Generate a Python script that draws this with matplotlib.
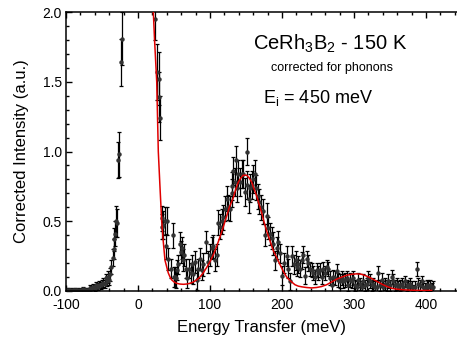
import numpy as np
import matplotlib
matplotlib.use("Agg")
import matplotlib.pyplot as plt
from matplotlib.ticker import MultipleLocator

plt.rcParams['font.family'] = ['Liberation Sans', 'DejaVu Sans']
plt.rcParams['mathtext.default'] = 'regular'
plt.rcParams['axes.unicode_minus'] = False

# measured points: energy transfer (meV), corrected intensity, error
energy = [-100, -97, -95, -92, -90, -87, -85, -82, -80, -77, -75, -72, -70, -67,
          -65, -62, -60, -58, -56, -54, -52, -50, -48, -46, -44, -43, -42, -40,
          -39, -37, -35, -34, -33, -31.5, -30, -29, -28, -26, -24, -22,
          23.6, 26.0, 28.7, 29.5, 30.5, 32.9, 34.0, 35.2, 37.5, 38.9, 40.7, 42.1,
          45.4, 48.1, 50.0, 51.8, 52.8, 54.0, 56.0, 58.3, 59.7, 61.0, 62.0, 64.4,
          66.2, 68.5, 70.8, 73.1, 75.5, 76.8, 79.2, 81.5, 83.8, 86.1, 88.4, 90.7,
          94.4, 97.7, 100.0, 102.3, 104.6, 106.9, 109.3, 111.6, 113.9, 116.2,
          118.5, 120.8, 123.0, 125.4, 127.8, 130.0, 131.0, 132.4, 134.7, 136.0,
          138.0, 139.3, 141.7, 144.0, 146.3, 148.6, 151.0, 152.0, 154.6, 155.6,
          157.9, 160.2, 162.5, 164.0, 166.2, 168.5, 170.8, 173.2, 176.4, 178.7,
          181.0, 183.3, 185.6, 187.9, 190.3, 192.6, 194.9, 197.2, 200.4, 203.2,
          206.5, 208.8, 211.0, 213.4, 216.7, 219.0, 221.4,
          222.7, 225.0, 227.3, 229.6, 232.0, 234.3, 236.6, 238.9, 241.0, 243.5,
          245.8, 248.2, 250.5, 252.8, 255.0, 257.4, 259.7, 262.0, 264.3, 266.7,
          269.0, 271.3, 273.6, 275.9, 278.2, 280.6, 282.9, 285.2, 287.5, 289.8,
          292.0, 294.4, 296.8, 299.0, 301.4, 303.7, 306.0, 308.3, 310.6, 313.0,
          315.3, 317.6, 320.0, 322.0, 324.5, 326.8, 329.0, 331.4, 333.8, 336.0,
          338.4, 340.7, 343.0, 345.4, 347.7, 350.0, 352.3, 354.6, 357.0, 359.3,
          361.6, 364.0, 366.2, 368.5, 370.8, 373.0, 375.5, 377.8, 380.0, 382.4,
          384.7, 387.0, 389.3, 391.6, 393.9, 396.3, 398.6, 401.0, 403.2, 405.5,
          407.8, 410.0]
intensity = [0.01, 0.005, 0.01, 0.0, 0.01, 0.005, 0.01, 0.0, 0.01, 0.015, 0.005, 0.01, 0.005, 0.02,
             0.015, 0.03, 0.02, 0.04, 0.03, 0.045, 0.04, 0.05, 0.06, 0.05, 0.09, 0.07, 0.10, 0.08,
             0.12, 0.17, 0.24, 0.30, 0.37, 0.41, 0.50, 0.49, 0.94, 0.98, 1.64, 1.81,
             1.95, 1.57, 1.52, 1.39, 1.24, 0.52, 0.46, 0.47, 0.50, 0.32, 0.50, 0.23,
             0.16, 0.40, 0.10, 0.10, 0.09, 0.15, 0.19, 0.34, 0.28, 0.31, 0.22, 0.26,
             0.16, 0.09, 0.16, 0.13, 0.19, 0.12, 0.21, 0.08, 0.16, 0.23, 0.15, 0.19,
             0.35, 0.21, 0.26, 0.31, 0.32, 0.22, 0.26, 0.49, 0.46, 0.50,
             0.53, 0.59, 0.66, 0.60, 0.59, 0.75, 0.70, 0.86, 0.78, 0.94,
             0.74, 0.84, 0.78, 0.84, 0.84, 0.71, 1.00, 0.76, 0.66, 0.74,
             0.76, 0.80, 0.84, 0.74, 0.68, 0.64, 0.60, 0.57, 0.40, 0.54,
             0.45, 0.41, 0.38, 0.34, 0.22, 0.31, 0.35, 0.27, 0.11, 0.20,
             0.25, 0.16, 0.07, 0.25, 0.19, 0.22, 0.17,
             0.19, 0.16, 0.22, 0.26, 0.11, 0.23, 0.20, 0.16, 0.15, 0.13,
             0.10, 0.15, 0.13, 0.15, 0.10, 0.16, 0.13, 0.17, 0.16, 0.09,
             0.04, 0.10, 0.09, 0.14, 0.08, 0.07, 0.09, 0.07, 0.08, 0.09,
             0.04, 0.08, 0.07, 0.09, 0.04, 0.03, 0.08, 0.05, 0.03, 0.07,
             0.04, 0.05, 0.09, 0.07, 0.04, 0.05, 0.03, 0.03, 0.13, 0.04,
             0.08, 0.03, 0.05, 0.04, 0.07, 0.04, 0.10, 0.07, 0.04, 0.05,
             0.03, 0.04, 0.05, 0.03, 0.07, 0.04, 0.03, 0.05, 0.03, 0.00,
             0.03, 0.16, 0.05, 0.04, 0.07, 0.03, 0.02, 0.04, 0.03, 0.04,
             0.02, 0.03]
error = [0.015, 0.015, 0.015, 0.015, 0.015, 0.015, 0.015, 0.015, 0.015, 0.015, 0.015, 0.015, 0.015, 0.02,
         0.02, 0.02, 0.02, 0.025, 0.025, 0.025, 0.025, 0.03, 0.03, 0.03, 0.035, 0.035, 0.04, 0.04,
         0.045, 0.05, 0.06, 0.07, 0.08, 0.09, 0.11, 0.10, 0.13, 0.16, 0.17, 0.19,
         0.15, 0.20, 0.19, 0.18, 0.16, 0.09, 0.09, 0.10, 0.10, 0.09, 0.10, 0.08,
         0.07, 0.09, 0.07, 0.07, 0.07, 0.07, 0.07, 0.08, 0.08, 0.08, 0.08, 0.08,
         0.07, 0.07, 0.07, 0.07, 0.07, 0.07, 0.08, 0.07, 0.07, 0.08, 0.07, 0.08,
         0.08, 0.08, 0.08, 0.08, 0.08, 0.08, 0.08, 0.09, 0.09, 0.09,
         0.09, 0.09, 0.09, 0.09, 0.09, 0.10, 0.10, 0.10, 0.10, 0.10,
         0.10, 0.10, 0.10, 0.10, 0.10, 0.10, 0.10, 0.10, 0.10, 0.10,
         0.10, 0.10, 0.10, 0.09, 0.09, 0.09, 0.09, 0.09, 0.08, 0.09,
         0.08, 0.08, 0.08, 0.08, 0.07, 0.08, 0.08, 0.07, 0.07, 0.07,
         0.07, 0.07, 0.06, 0.07, 0.07, 0.07, 0.06,
         0.06, 0.06, 0.06, 0.06, 0.06, 0.06, 0.06, 0.05, 0.05, 0.05,
         0.05, 0.05, 0.05, 0.05, 0.05, 0.05, 0.05, 0.05, 0.05, 0.05,
         0.05, 0.05, 0.05, 0.05, 0.05, 0.05, 0.05, 0.05, 0.05, 0.05,
         0.04, 0.05, 0.05, 0.05, 0.04, 0.04, 0.05, 0.04, 0.04, 0.05,
         0.04, 0.04, 0.05, 0.05, 0.04, 0.04, 0.04, 0.04, 0.05, 0.04,
         0.05, 0.04, 0.04, 0.04, 0.05, 0.04, 0.05, 0.05, 0.04, 0.04,
         0.04, 0.04, 0.04, 0.04, 0.04, 0.04, 0.04, 0.04, 0.04, 0.04,
         0.04, 0.05, 0.04, 0.04, 0.04, 0.04, 0.04, 0.04, 0.04, 0.04,
         0.04, 0.04]

# fitted line (quasielastic tail + crystal field excitations)
fit_energy = [21.3, 23.0, 26.0, 28.2, 30.5, 32.9, 35.0, 37.5, 40.0, 42.0, 44.5, 46.8, 50.0,
              53.7, 58.0, 63.0, 67.5, 72.2, 77.0, 81.5, 86.0, 90.7, 95.5, 100.0, 104.7,
              109.3, 114.0, 118.5, 122.7, 126.9, 132.4, 135.8, 139.3, 142.8, 146.3, 151.0,
              154.5, 157.9, 161.3, 164.8, 168.3, 171.8, 175.3, 178.7, 183.3, 187.9, 192.6,
              197.2, 201.9, 206.5, 211.1, 215.7, 218.0, 222.6, 227.3, 234.1, 241.0, 248.0,
              255.0, 262.0, 269.0, 276.0, 283.0, 290.0, 296.8, 303.7, 310.6, 317.5, 324.5,
              331.4, 338.4, 345.4, 352.3, 359.2, 366.0, 375.0, 384.7, 396.0, 407.8]
fit_intensity = [2.00, 1.80, 1.50, 1.00, 0.75, 0.50, 0.36, 0.22, 0.17, 0.13, 0.10, 0.08, 0.065,
                 0.055, 0.05, 0.048, 0.05, 0.055, 0.065, 0.08, 0.10, 0.13, 0.17, 0.21, 0.26,
                 0.32, 0.39, 0.46, 0.53, 0.60, 0.67, 0.73, 0.78, 0.81, 0.83, 0.83,
                 0.81, 0.78, 0.73, 0.68, 0.62, 0.56, 0.49, 0.43, 0.36, 0.29, 0.24,
                 0.19, 0.14, 0.10, 0.075, 0.055, 0.045, 0.035, 0.03, 0.025, 0.022, 0.025,
                 0.032, 0.045, 0.065, 0.085, 0.10, 0.113, 0.12, 0.123, 0.12, 0.107, 0.09,
                 0.07, 0.05, 0.033, 0.02, 0.013, 0.01, 0.007, 0.005, 0.004, 0.004]

fig = plt.figure(figsize=(4.57, 3.38), dpi=100)
ax = fig.add_axes([66 / 457, 47 / 338, 391 / 457, 279 / 338])

ax.errorbar(energy, intensity, yerr=error, fmt='o', color='black', mfc='#333333', mec='#333333',
            ms=2.2, elinewidth=0.9, capsize=1.6, capthick=0.9, zorder=2)
ax.plot(fit_energy, fit_intensity, color='#e00000', lw=1.1, zorder=3)

ax.set_xlim(-100, -100 + 391 / 0.72)
ax.set_ylim(0, 2.0)
ax.xaxis.set_major_locator(MultipleLocator(100))
ax.xaxis.set_minor_locator(MultipleLocator(20))
ax.yaxis.set_major_locator(MultipleLocator(0.5))
ax.yaxis.set_minor_locator(MultipleLocator(0.1))
ax.yaxis.set_major_formatter(plt.FuncFormatter(lambda v, p: f"{v:.1f}"))
ax.tick_params(which='both', direction='in', top=True, right=False, labelsize=10, width=1)
ax.tick_params(which='major', length=4.5, pad=3)
ax.tick_params(axis='x', which='major', pad=5)
ax.tick_params(which='minor', length=2.2)
for s in ['left', 'bottom', 'top']:
    ax.spines[s].set_linewidth(1.1)
ax.spines['right'].set_visible(False)

ax.set_xlabel('Energy Transfer (meV)', fontsize=12, labelpad=6)
ax.set_ylabel('Corrected Intensity (a.u.)', fontsize=12, labelpad=10)

ax.text(0.675, 0.885, 'CeRh$_3$B$_2$ - 150 K', transform=ax.transAxes, ha='center', va='center', fontsize=14.5)
ax.text(0.68, 0.8, 'corrected for phonons', transform=ax.transAxes, ha='center', va='center', fontsize=9)
ax.text(0.645, 0.69, 'E$_i$ = 450 meV', transform=ax.transAxes, ha='center', va='center', fontsize=13)

fig.savefig('out.png', dpi=100)
